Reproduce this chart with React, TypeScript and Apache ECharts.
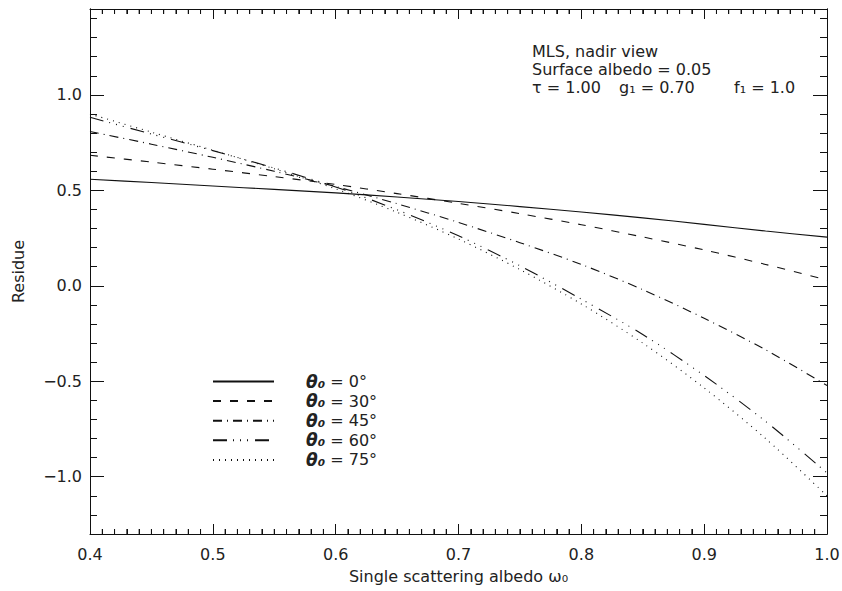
import React, { useEffect, useRef } from "react";
import * as echarts from "echarts";

// Single scattering albedo (x)
const albedo = [0.4, 0.45, 0.5, 0.55, 0.6, 0.65, 0.7, 0.75, 0.8, 0.85, 0.9, 0.95, 1.0];
// Residue for each solar zenith angle
const res0 = [0.558, 0.541, 0.523, 0.505, 0.487, 0.465, 0.442, 0.415, 0.387, 0.356, 0.322, 0.287, 0.255];
const res30 = [0.684, 0.648, 0.611, 0.572, 0.531, 0.483, 0.432, 0.378, 0.32, 0.256, 0.188, 0.112, 0.03];
const res45 = [0.808, 0.742, 0.673, 0.6, 0.52, 0.43, 0.332, 0.226, 0.112, -0.02, -0.17, -0.335, -0.522];
const res60 = [0.883, 0.795, 0.708, 0.617, 0.518, 0.398, 0.262, 0.105, -0.07, -0.255, -0.47, -0.71, -0.98];
const res75 = [0.9, 0.805, 0.71, 0.613, 0.508, 0.385, 0.245, 0.085, -0.095, -0.3, -0.535, -0.8, -1.1];

const seriesNames = ["θ₀ = 0°", "θ₀ = 30°", "θ₀ = 45°", "θ₀ = 60°", "θ₀ = 75°"];
const seriesValues = [res0, res30, res45, res60, res75];
const dashPatterns: (string | number[])[] = [
  "solid",
  [8, 9],
  [9, 5, 1, 5],
  [14, 6, 1, 6, 1, 6, 1, 7],
  [1, 5],
];

// Minor tick positions of the x axes
const xMinorTicks = [
  0.41, 0.42, 0.43, 0.44, 0.45, 0.46, 0.47, 0.48, 0.49,
  0.51, 0.52, 0.53, 0.54, 0.55, 0.56, 0.57, 0.58, 0.59,
  0.61, 0.62, 0.63, 0.64, 0.65, 0.66, 0.67, 0.68, 0.69,
  0.71, 0.72, 0.73, 0.74, 0.75, 0.76, 0.77, 0.78, 0.79,
  0.81, 0.82, 0.83, 0.84, 0.85, 0.86, 0.87, 0.88, 0.89,
  0.91, 0.92, 0.93, 0.94, 0.95, 0.96, 0.97, 0.98, 0.99,
];

const annotation1 = "MLS, nadir view";
const annotation2 = "Surface albedo = 0.05";
const annotation3 = ["τ = 1.00", "g₁ = 0.70", "f₁ = 1.0"];

const xMin = 0.4;
const xMax = 1.0;
const yMin = -1.3;
const yMax = 1.45;

const FONT = "DejaVu Sans";
const INK = "#111";
const TEXT = "#222";

function fmtY(v: number): string {
  const r = Math.round(v * 2);
  if (Math.abs(v * 2 - r) > 1e-6) return "";
  if (Math.abs(v) < 1e-9) return "0.0";
  return v < 0 ? "\u2212" + Math.abs(v).toFixed(1) : v.toFixed(1);
}

export default function App() {
  const ref = useRef<HTMLDivElement>(null);
  useEffect(() => {
    document.body.style.margin = "0";
    if (!ref.current) return;
    const chart = echarts.init(ref.current, null, { renderer: "svg" });

    const axisLine = { show: true, onZero: false, lineStyle: { color: INK, width: 1 } };

    const yAxisCommon = (position: "left" | "right", major: boolean, labels: boolean) => {
      const base: any = {
        type: "value",
        position,
        min: yMin,
        max: yMax,
        axisLine,
        splitLine: { show: false },
        axisTick: { show: true, inside: true, length: major ? 14 : 7, lineStyle: { color: INK, width: 1 } },
        axisLabel: labels
          ? { show: true, formatter: fmtY, fontFamily: FONT, fontSize: 16, color: TEXT, margin: 8, showMinLabel: false, showMaxLabel: false }
          : { show: false },
      };
      if (major) {
        base.splitNumber = 5;
        base.minInterval = 0.5;
        base.maxInterval = 0.5;
      } else {
        base.interval = 0.1;
      }
      return base;
    };

    const yAxes: any[] = [
      {
        ...yAxisCommon("left", true, true),
        name: "Residue",
        nameLocation: "middle",
        nameGap: 64,
        nameTextStyle: { fontFamily: FONT, fontSize: 16, color: TEXT },
      },
      yAxisCommon("left", false, false),
      yAxisCommon("right", true, false),
      yAxisCommon("right", false, false),
    ];

    const xAxisCommon = (position: "bottom" | "top", labels: boolean) => ({
      type: "value",
      position,
      min: xMin,
      max: xMax,
      interval: 0.1,
      axisLine,
      splitLine: { show: false },
      axisTick: { show: true, inside: true, length: 10, lineStyle: { color: INK, width: 1 } },
      minorTick: { show: true, splitNumber: 10, length: 5, lineStyle: { color: INK, width: 1 } },
      axisLabel: labels
        ? { show: true, formatter: (v: number) => v.toFixed(1), fontFamily: FONT, fontSize: 16, color: TEXT, margin: 12 }
        : { show: false },
    });

    const xAxes: any[] = [
      {
        ...xAxisCommon("bottom", true),
        name: "Single scattering albedo ω₀",
        nameLocation: "middle",
        nameGap: 34,
        nameTextStyle: { fontFamily: FONT, fontSize: 16, color: TEXT },
      },
      xAxisCommon("top", false),
    ];

    const series: any[] = seriesNames.map((name, i) => ({
      name,
      type: "line",
      xAxisIndex: 0,
      yAxisIndex: 0,
      data: albedo.map((x, j) => [x, seriesValues[i][j]]),
      smooth: 0.3,
      symbol: "none",
      showSymbol: false,
      clip: true,
      itemStyle: { color: INK, opacity: 0 },
      lineStyle: { color: INK, width: 1.1, type: dashPatterns[i] },
      emphasis: { disabled: true },
    }));

    series.push({
      name: "minor ticks",
      type: "custom",
      xAxisIndex: 0,
      yAxisIndex: 0,
      silent: true,
      clip: false,
      z: 10,
      data: xMinorTicks.map((v) => [v]),
      encode: { x: 0 },
      renderItem: (params: any, api: any) => {
        const v = api.value(0);
        const b = api.coord([v, yMin]);
        const t = api.coord([v, yMax]);
        const st = { stroke: INK, lineWidth: 1 };
        return {
          type: "group",
          children: [
            { type: "line", shape: { x1: b[0], y1: b[1], x2: b[0], y2: b[1] - 5 }, style: st },
            { type: "line", shape: { x1: t[0], y1: t[1], x2: t[0], y2: t[1] + 5 }, style: st },
          ],
        };
      },
    });

    const textStyle = { fontFamily: FONT, fontSize: 16, fill: TEXT };

    chart.setOption({
      animation: false,
      backgroundColor: "#fff",
      grid: { left: 90, right: 15, top: 9, bottom: 57, containLabel: false, outerBoundsMode: "none" },
      xAxis: xAxes,
      yAxis: yAxes,
      legend: {
        show: true,
        orient: "vertical",
        left: 207,
        top: 368,
        itemWidth: 61,
        itemHeight: 14,
        itemGap: 2.6,
        selectedMode: false,
        data: seriesNames,
        itemStyle: { opacity: 0, borderWidth: 0 },
        formatter: (n: string) => `{th|${n.slice(0, 2)}}{n|${n.slice(2)}}`,
        textStyle: {
          fontFamily: FONT,
          fontSize: 16,
          color: TEXT,
          rich: {
            th: { fontFamily: FONT, fontSize: 17, fontStyle: "italic", fontWeight: "bold", color: TEXT, padding: [0, 0, 0, 27], lineHeight: 16 },
            n: { fontFamily: FONT, fontSize: 16, color: TEXT, lineHeight: 16 },
          },
        },
      },
      graphic: [
        { type: "text", left: 532, top: 43, style: { ...textStyle, text: annotation1 } },
        { type: "text", left: 532, top: 61, style: { ...textStyle, text: annotation2 } },
        { type: "text", left: 532, top: 79, style: { ...textStyle, text: annotation3[0] } },
        { type: "text", left: 619, top: 79, style: { ...textStyle, text: annotation3[1] } },
        { type: "text", left: 734, top: 79, style: { ...textStyle, text: annotation3[2] } },
      ],
      series,
    });
    return () => chart.dispose();
  }, []);
  return <div ref={ref} style={{ width: 842, height: 591 }} />;
}
